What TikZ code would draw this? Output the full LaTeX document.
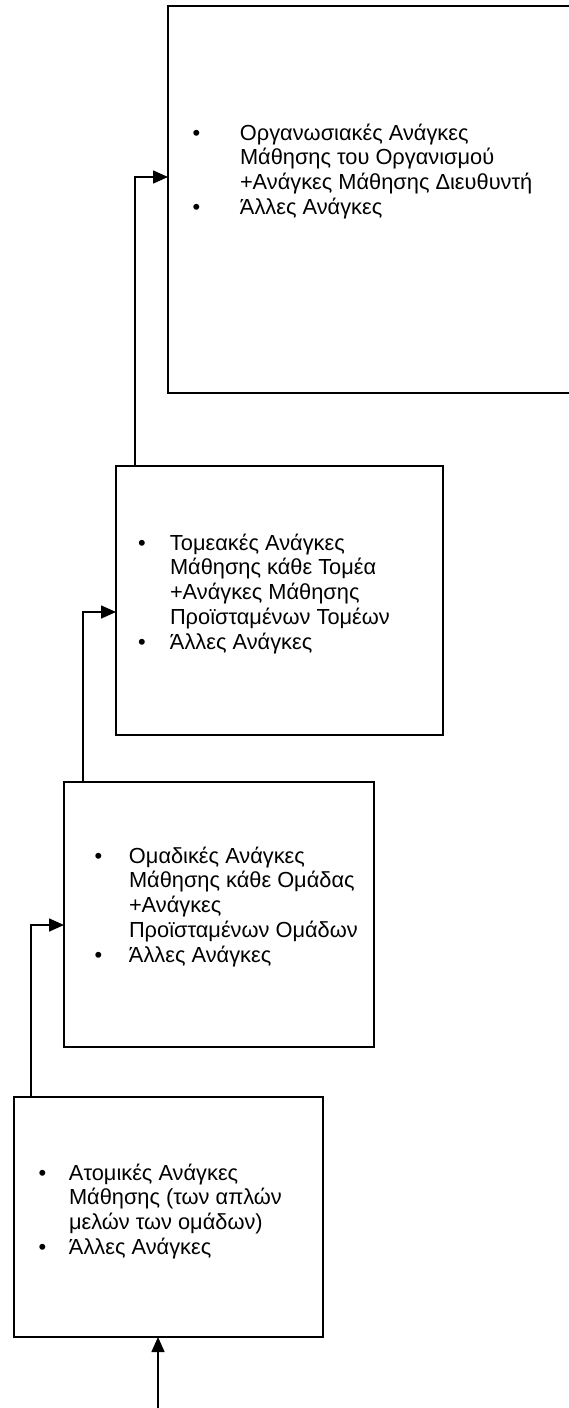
\documentclass[tikz,border=0pt]{standalone}
\usepackage{fontspec}
\setmainfont{Liberation Sans}
\usetikzlibrary{arrows.meta}
\newcommand{\bul}[1]{\makebox[#1][l]{•}}
\begin{document}
\begin{tikzpicture}[x=1pt,y=-1pt,
  box/.style={draw, line width=1.6pt, inner sep=0pt, outer sep=0pt, anchor=north west},
  arr/.style={line width=1.6pt, -{Triangle[length=15pt,width=13pt]}},
  txt/.style={anchor=base west, inner sep=0pt, outer sep=0pt, font=\fontsize{21.8}{24.8}\selectfont}]
\useasboundingbox (0,0) rectangle (569,1408);
% boxes
\node[box, minimum width=410pt, minimum height=387pt] (b1) at (168,6) {};
\node[box, minimum width=327pt, minimum height=269pt] (b2) at (116,466) {};
\node[box, minimum width=310pt, minimum height=265pt] (b3) at (64,782) {};
\node[box, minimum width=309pt, minimum height=240pt] (b4) at (14,1097) {};
% texts
\node[txt] (t1) at (192.5,140) {\begin{tabular}[t]{@{}l@{}l@{}}
\bul{47.5pt}& Οργανωσιακές Ανάγκες\\
& Μάθησης του Οργανισμού\\
& +Ανάγκες Μάθησης Διευθυντή\\
\bul{47.5pt}& Άλλες Ανάγκες
\end{tabular}};
\node[txt] (t2) at (138,550) {\begin{tabular}[t]{@{}l@{}l@{}}
\bul{32pt}& Τομεακές Ανάγκες\\
& Μάθησης κάθε Τομέα\\
& +Ανάγκες Μάθησης\\
& Προϊσταμένων Τομέων\\
\bul{32pt}& Άλλες Ανάγκες
\end{tabular}};
\node[txt] (t3) at (94.5,863) {\begin{tabular}[t]{@{}l@{}l@{}}
\bul{34.5pt}& Ομαδικές Ανάγκες\\
& Μάθησης κάθε Ομάδας\\
& +Ανάγκες\\
& Προϊσταμένων Ομάδων\\
\bul{34.5pt}& Άλλες Ανάγκες
\end{tabular}};
\node[txt] (t4) at (38.5,1180) {\begin{tabular}[t]{@{}l@{}l@{}}
\bul{30.5pt}& Ατομικές Ανάγκες\\
& Μάθησης (των απλών\\
& μελών των ομάδων)\\
\bul{30.5pt}& Άλλες Ανάγκες
\end{tabular}};
% connectors
\coordinate (k1) at (135,177);
\coordinate (k2) at (83,612);
\coordinate (k3) at (31,925);
\coordinate (s) at (158,1408);
\draw[arr] (k1 |- b2.north) -- (k1) -- (k1 -| b1.west);
\draw[arr] (k2 |- b3.north) -- (k2) -- (k2 -| b2.west);
\draw[arr] (k3 |- b4.north) -- (k3) -- (k3 -| b3.west);
\draw[arr] (s) -- (s |- b4.south);
\end{tikzpicture}
\end{document}
